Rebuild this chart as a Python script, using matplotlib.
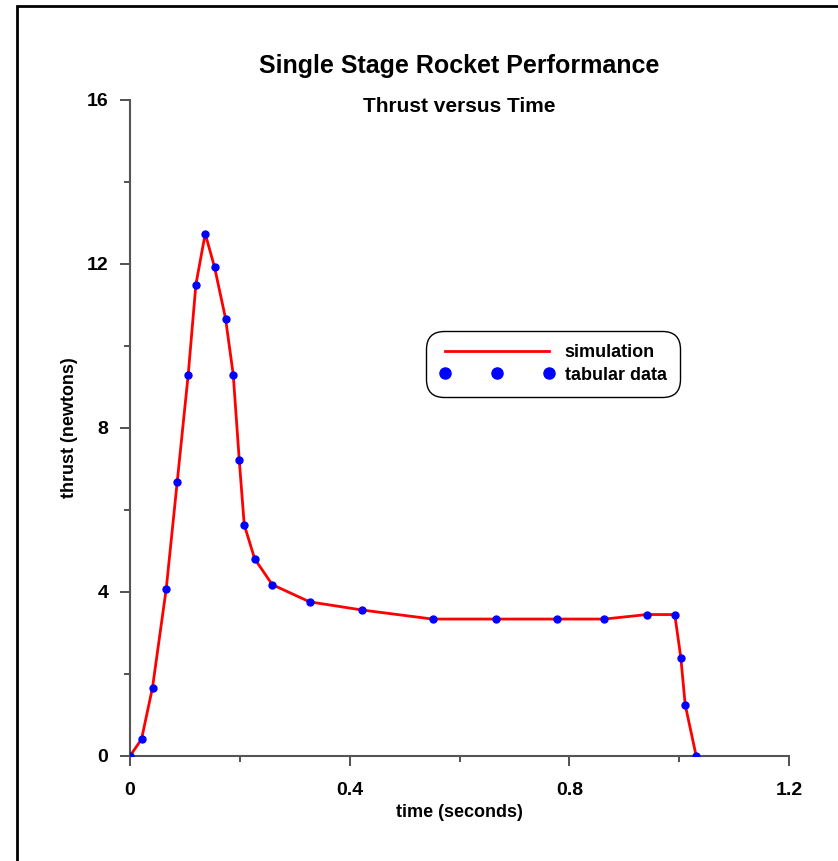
import numpy as np
import matplotlib
matplotlib.use("Agg")
import matplotlib.pyplot as plt
from matplotlib.lines import Line2D
from matplotlib.patches import Rectangle
from matplotlib.ticker import MultipleLocator

plt.rcParams['font.family'] = ['Liberation Sans', 'DejaVu Sans']
plt.rcParams['font.weight'] = 'bold'

# tabular thrust curve
time_s = [0.0, 0.021, 0.041, 0.066, 0.086, 0.106, 0.120, 0.137, 0.154, 0.174,
          0.188, 0.199, 0.208, 0.227, 0.259, 0.327, 0.423, 0.551, 0.666, 0.777,
          0.864, 0.941, 0.992, 1.003, 1.011, 1.031]
thrust_n = [0.0, 0.41, 1.67, 4.08, 6.69, 9.30, 11.50, 12.74, 11.92, 10.67,
            9.30, 7.21, 5.64, 4.81, 4.18, 3.76, 3.56, 3.34, 3.34, 3.34,
            3.34, 3.45, 3.45, 2.40, 1.25, 0.0]

x_ticks = [0, 0.4, 0.8, 1.2]
y_ticks = [0, 4, 8, 12, 16]

fig = plt.figure(figsize=(8.38, 8.61), dpi=100)
ax = fig.add_axes([130 / 838, 1 - 756 / 861, 659 / 838, 656 / 861])

ax.plot(time_s, thrust_n, color='red', lw=2, zorder=2)
ax.plot(time_s, thrust_n, 'o', color='blue', ms=5, mec='blue', zorder=3)

ax.set_xlim(0, 1.2)
ax.set_ylim(0, 16)
ax.set_xticks(x_ticks)
ax.set_xticklabels(['0', '0.4', '0.8', '1.2'])
ax.set_yticks(y_ticks)
ax.xaxis.set_minor_locator(MultipleLocator(0.2))
ax.yaxis.set_minor_locator(MultipleLocator(2))
ax.tick_params(which='major', length=7.5, width=1.2, labelsize=14, color='#333333')
ax.tick_params(which='minor', length=4, width=1.2, color='#333333')
ax.tick_params(axis='x', which='major', pad=11)
ax.tick_params(axis='y', which='major', pad=8)
for side in ['top', 'right']:
    ax.spines[side].set_visible(False)
for side in ['left', 'bottom']:
    ax.spines[side].set_color('#555555')
    ax.spines[side].set_linewidth(1.5)

ax.set_xlabel('time (seconds)', fontsize=13, fontweight='bold', labelpad=4)
ax.set_ylabel('thrust (newtons)', fontsize=13, fontweight='bold', labelpad=6)

fig.text(0.5475, 1 - 66 / 861, 'Single Stage Rocket Performance', ha='center', va='center',
         fontsize=18, fontweight='bold')
fig.text(0.5475, 1 - 107 / 861, 'Thrust versus Time', ha='center', va='center',
         fontsize=15, fontweight='bold')

handles = [Line2D([], [], color='red', lw=2),
           Line2D([], [], color='blue', marker='o', ls='none', ms=8)]
leg = ax.legend(handles, ['simulation', 'tabular data'], loc='center',
                bbox_to_anchor=((553 - 130) / 659, (756 - 364) / 656),
                numpoints=3, handlelength=6.4, fontsize=13, frameon=True,
                fancybox=True, edgecolor='black', framealpha=1,
                borderpad=0.55, handletextpad=0.55, labelspacing=0.3,
                borderaxespad=0)
leg.get_frame().set_linewidth(1.0)
leg.get_frame().set_boxstyle('round', pad=0.2, rounding_size=1.0)

# outer frame (left and top edges visible)
fig.patches.append(Rectangle((17 / 838, -0.1), 1.2, 1 - 6 / 861 + 0.1, transform=fig.transFigure,
                             fill=False, edgecolor='black', lw=2))

fig.savefig('out.png', dpi=100)
